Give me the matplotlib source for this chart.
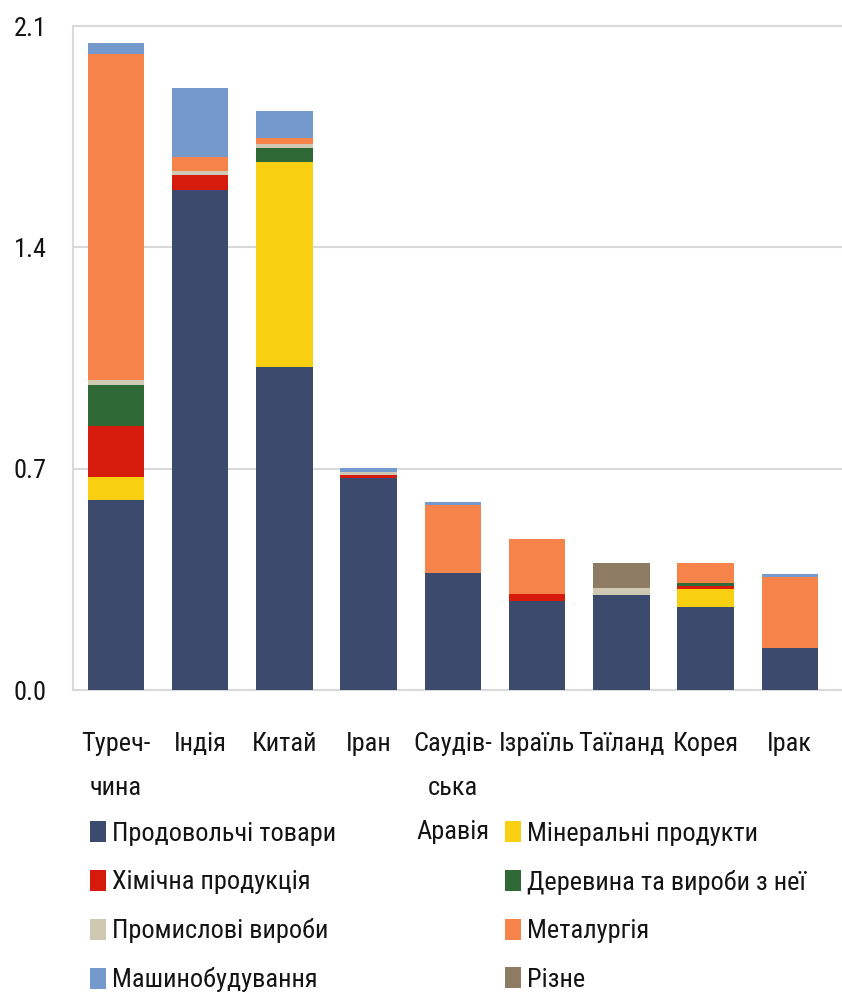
import numpy as np
import matplotlib
matplotlib.use("Agg")
import matplotlib.pyplot as plt
from matplotlib import font_manager
from matplotlib.patches import Patch

available = {f.name for f in font_manager.fontManager.ttflist}
narrow = [n for n in ("Liberation Sans Narrow", "Roboto Condensed", "Open Sans Condensed")
          if n in available]
if narrow:
    plt.rcParams['font.family'] = [narrow[0], 'DejaVu Sans']
    FS = 19
else:
    plt.rcParams['font.family'] = ['Liberation Sans', 'DejaVu Sans']
    FS = 16.5

countries = ["Туреч-\nчина", "Індія", "Китай", "Іран", "Саудів-\nська\nАравія",
             "Ізраїль", "Таїланд", "Корея", "Ірак"]

food       = [0.600, 1.580, 1.020, 0.672, 0.370, 0.280, 0.300, 0.264, 0.133]
mineral    = [0.075, 0.000, 0.650, 0.000, 0.000, 0.000, 0.000, 0.054, 0.000]
chemical   = [0.160, 0.050, 0.000, 0.008, 0.000, 0.025, 0.000, 0.010, 0.000]
wood       = [0.130, 0.000, 0.045, 0.000, 0.000, 0.000, 0.000, 0.009, 0.000]
industrial = [0.015, 0.010, 0.012, 0.010, 0.000, 0.000, 0.022, 0.000, 0.000]
metallurgy = [1.030, 0.045, 0.018, 0.000, 0.215, 0.171, 0.000, 0.066, 0.223]
machinery  = [0.035, 0.220, 0.085, 0.012, 0.010, 0.000, 0.000, 0.000, 0.010]
misc       = [0.000, 0.000, 0.000, 0.000, 0.000, 0.000, 0.081, 0.000, 0.000]

series_names = ["Продовольчі товари", "Мінеральні продукти", "Хімічна продукція",
                "Деревина та вироби з неї", "Промислові вироби", "Металургія",
                "Машинобудування", "Різне"]
series_values = [food, mineral, chemical, wood, industrial, metallurgy, machinery, misc]
series_colors = ["#3C4A6D", "#F9CF12", "#D61A0C", "#2F6A36",
                 "#CFC8B2", "#F6844A", "#7399CD", "#8D7B63"]

yticks = [0.0, 0.7, 1.4, 2.1]

W, H = 842, 994
fig = plt.figure(figsize=(W / 100, H / 100), dpi=100)
ax = fig.add_axes([73 / W, (H - 690) / H, (W - 73) / W, 664 / H])

x = np.arange(len(countries))
bottom = np.zeros(len(countries))
for name, vals, col in zip(series_names, series_values, series_colors):
    v = np.array(vals)
    ax.bar(x, v, width=0.67, bottom=bottom, color=col, linewidth=0, zorder=3)
    bottom += v

ax.set_xlim(-0.51, 8.62)
ax.set_ylim(0, 2.1)
ax.set_yticks(yticks)
ax.set_yticklabels([f"{t:.1f}" for t in yticks])
ax.set_xticks(x)
ax.set_xticklabels(countries, linespacing=2.05, va="top")

ax.yaxis.grid(True, color="#D9D9D9", linewidth=1.5, zorder=0)
ax.set_axisbelow(True)
for side in ["left", "top", "bottom"]:
    ax.spines[side].set_color("#D9D9D9")
    ax.spines[side].set_linewidth(1.5)
ax.spines["right"].set_visible(False)

ax.tick_params(axis="both", length=0, labelsize=FS, colors="#141414")
ax.tick_params(axis="y", pad=19)
ax.tick_params(axis="x", pad=30)

# two-column legend, filled row by row like the stacking order
left_idx = [0, 2, 4, 6]
right_idx = [1, 3, 5, 7]
for idx, x0 in ((left_idx, 90), (right_idx, 505)):
    handles = [Patch(facecolor=series_colors[i], edgecolor="none") for i in idx]
    labels = [series_names[i] for i in idx]
    fig.legend(handles, labels, loc="upper left",
               bbox_to_anchor=(x0 / W, 1 - 821 / H),
               frameon=False, fontsize=FS, borderpad=0, borderaxespad=0,
               handlelength=0.6, handleheight=0.85, handletextpad=0.22,
               labelspacing=0.91, labelcolor="#141414")

fig.savefig("out.png", dpi=100)
